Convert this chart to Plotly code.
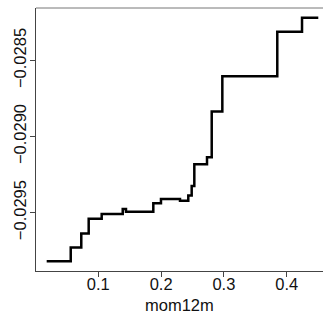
import plotly.graph_objects as go

# Step breakpoints of the partial dependence curve (mom12m -> prediction)
mom12m = [0.0178, 0.0561, 0.0729, 0.0847, 0.1054, 0.1389, 0.1441, 0.1876,
          0.1998, 0.2301, 0.2433, 0.2487, 0.2529, 0.2731, 0.2806, 0.2975,
          0.3850, 0.4244, 0.4503]
yhat = [-0.029820, -0.029730, -0.029637, -0.029541, -0.029510, -0.029477,
        -0.029495, -0.029439, -0.029411, -0.029422, -0.029387, -0.029325,
        -0.029182, -0.029136, -0.028835, -0.028604, -0.028311, -0.028219,
        -0.028219]

x_tickvals = [0.1, 0.2, 0.3, 0.4]
x_ticktext = ["0.1", "0.2", "0.3", "0.4"]
y_tickvals = [-0.0285, -0.0290, -0.0295]
y_ticktext = ["\u22120.0285", "\u22120.0290", "\u22120.0295"]

font_family = "Liberation Sans, Arial, sans-serif"

fig = go.Figure()
fig.add_trace(go.Scatter(
    x=mom12m, y=yhat, mode="lines", line_shape="hv",
    line=dict(color="black", width=2.5), showlegend=False,
))

fig.update_layout(
    width=323, height=320,
    margin=dict(l=36, r=0, t=8, b=49, autoexpand=False),
    paper_bgcolor="white", plot_bgcolor="white",
    font=dict(family=font_family, size=16.5, color="#111"),
    xaxis=dict(
        range=[0.0008, 0.4578], tickvals=x_tickvals, ticktext=x_ticktext,
        ticks="outside", ticklen=5, tickcolor="#444", showgrid=False,
        zeroline=False, showline=True, linecolor="#444", linewidth=1,
        automargin=False, ticklabelstandoff=-7,
    ),
    yaxis=dict(
        range=[-0.029884, -0.028155], tickvals=y_tickvals, ticktext=y_ticktext,
        ticks="outside", ticklen=5, tickcolor="#444", showgrid=False,
        zeroline=False, showline=True, linecolor="#444", linewidth=1,
        tickangle=-90, automargin=False, ticklabelstandoff=-3,
    ),
    shapes=[dict(type="line", xref="paper", yref="paper", x0=0, x1=1,
                 y0=1, y1=1, line=dict(color="#777", width=1))],
    annotations=[dict(text="mom12m", xref="paper", yref="paper",
                      x=(179.5 - 36) / 287, y=-(305 - 271) / 263,
                      showarrow=False, yanchor="middle", xanchor="center",
                      font=dict(size=16.5, color="#111"))],
)

fig.write_html("out.html", config={"displayModeBar": False},
               post_script="document.body.style.margin='0';document.body.style.overflow='hidden';")
